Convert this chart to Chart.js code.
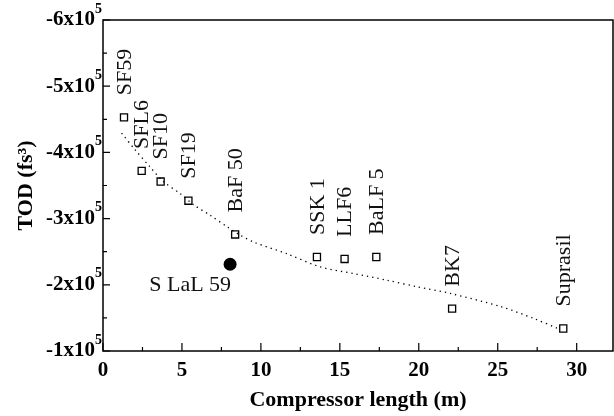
<!DOCTYPE html>
<html lang="en">
<head>
    <meta charset="UTF-8">
    <title>TOD vs compressor length</title>
    <script src="https://cdn.jsdelivr.net/npm/chart.js@4.4.0/dist/chart.umd.min.js"></script>
    <style>
        body { margin: 0; background: #fff; overflow: hidden; }
        #wrap { width: 614px; height: 416px; }
    </style>
</head>
<body>
<div id="wrap"><canvas id="myChart"></canvas></div>
<script>
    // glasses (open squares)
    var glassNames = ['SF59', 'SFL6', 'SF10', 'SF19', 'BaF 50', 'SSK 1', 'LLF6', 'BaLF 5', 'BK7', 'Suprasil'];
    var glassLength = [1.33, 2.45, 3.65, 5.41, 8.37, 13.55, 15.3, 17.31, 22.11, 29.15];
    var glassTOD = [-4.53e5, -3.72e5, -3.56e5, -3.27e5, -2.76e5, -2.42e5, -2.39e5, -2.42e5, -1.64e5, -1.34e5];

    // S LaL 59 (filled circle)
    var slalName = 'S LaL 59';
    var slalLength = [8.05];
    var slalTOD = [-2.31e5];

    // dotted trend line
    var fitLength = [1.18, 2.03, 2.98, 3.82, 4.88, 5.73, 6.79, 7.84, 8.69, 9.6, 11.64, 13.76, 15.87, 17.98, 19.9, 22.0, 25.2, 27.3, 28.8];
    var fitTOD = [-4.29e5, -4.04e5, -3.78e5, -3.56e5, -3.38e5, -3.21e5, -3.05e5, -2.88e5, -2.75e5, -2.64e5, -2.47e5, -2.27e5, -2.17e5, -2.07e5, -1.97e5, -1.87e5, -1.67e5, -1.49e5, -1.34e5];

    var xTicks = [0, 5, 10, 15, 20, 25, 30];
    var yTicks = [-6e5, -5e5, -4e5, -3e5, -2e5, -1e5];

    function toXY(xs, ys) {
        var out = [];
        xs.forEach(function (x, i) { out.push({x: x, y: ys[i]}); });
        return out;
    }

    var serif = '"Liberation Serif", "Times New Roman", serif';

    var framePlugin = {
        id: 'frame',
        afterDatasetsDraw: function (chart) {
            var ctx = chart.ctx;
            var a = chart.chartArea;
            var xs = chart.scales.x, ys = chart.scales.y;
            ctx.save();
            ctx.strokeStyle = '#000';
            ctx.lineWidth = 1.5;
            ctx.strokeRect(a.left, a.top, a.right - a.left, a.bottom - a.top);
            ctx.lineWidth = 1.2;
            ctx.beginPath();
            // inward ticks, x
            for (var i = 0; i < xTicks.length; i++) {
                var px = xs.getPixelForValue(xTicks[i]);
                ctx.moveTo(px, a.bottom); ctx.lineTo(px, a.bottom - 8);
                var mx = xs.getPixelForValue(xTicks[i] + 2.5);
                if (mx < a.right - 2) { ctx.moveTo(mx, a.bottom); ctx.lineTo(mx, a.bottom - 4); }
            }
            // inward ticks, y
            for (var j = 0; j < yTicks.length; j++) {
                var py = ys.getPixelForValue(yTicks[j]);
                ctx.moveTo(a.left, py); ctx.lineTo(a.left + 7, py);
                if (j < yTicks.length - 1) {
                    var my = ys.getPixelForValue(yTicks[j] + 0.5e5);
                    ctx.moveTo(a.left, my); ctx.lineTo(a.left + 4, my);
                }
            }
            ctx.stroke();

            // y tick labels with superscript
            ctx.fillStyle = '#000';
            for (var k = 0; k < yTicks.length; k++) {
                var y = ys.getPixelForValue(yTicks[k]);
                var mant = Math.round(yTicks[k] / 1e5);
                ctx.font = 'bold 14px ' + serif;
                var supW = ctx.measureText('5').width;
                var right = a.left - 1 - supW;
                ctx.font = 'bold 21px ' + serif;
                ctx.textAlign = 'right';
                ctx.textBaseline = 'middle';
                ctx.fillText(mant + 'x10', right, y);
                ctx.font = 'bold 14px ' + serif;
                ctx.textAlign = 'left';
                ctx.fillText('5', right, y - 11);
            }

            // glass labels, rotated
            var meta = chart.getDatasetMeta(1);
            ctx.font = '22px ' + serif;
            ctx.fillStyle = '#111';
            meta.data.forEach(function (pt, i) {
                ctx.save();
                ctx.translate(pt.x, pt.y - 22);
                ctx.rotate(-Math.PI / 2);
                ctx.textAlign = 'left';
                ctx.textBaseline = 'middle';
                ctx.fillText(glassNames[i], 0, 1);
                ctx.restore();
            });
            var sm = chart.getDatasetMeta(2).data[0];
            ctx.textAlign = 'right';
            ctx.textBaseline = 'middle';
            ctx.fillText(slalName, sm.x + 1, sm.y + 21);
            ctx.restore();
        }
    };

    var ctx = document.getElementById('myChart').getContext('2d');
    var chart = new Chart(ctx, {
        type: 'scatter',
        data: {
            datasets: [{
                label: 'fit',
                data: toXY(fitLength, fitTOD),
                showLine: true,
                borderColor: '#000',
                borderWidth: 1.3,
                borderDash: [1.3, 4],
                tension: 0.3,
                pointRadius: 0
            }, {
                label: 'glasses',
                data: toXY(glassLength, glassTOD),
                pointStyle: 'rect',
                pointRadius: 5,
                pointBorderWidth: 1.3,
                pointBorderColor: '#000',
                pointBackgroundColor: '#fff'
            }, {
                label: slalName,
                data: toXY(slalLength, slalTOD),
                pointStyle: 'circle',
                pointRadius: 6.5,
                pointBorderWidth: 0,
                pointBackgroundColor: '#000'
            }]
        },
        options: {
            animation: false,
            responsive: true,
            maintainAspectRatio: false,
            layout: {autoPadding: false, padding: {top: 20, right: 1, left: 0, bottom: 0}},
            plugins: {legend: {display: false}, tooltip: {enabled: false}},
            scales: {
                x: {
                    type: 'linear',
                    min: 0,
                    max: 32.3,
                    afterFit: function (s) { s.height = 65; s.paddingLeft = 0; s.paddingRight = 0; },
                    grid: {display: false, drawTicks: false},
                    border: {display: false},
                    ticks: {
                        stepSize: 5,
                        includeBounds: false,
                        padding: 7,
                        color: '#000',
                        maxRotation: 0,
                        font: {family: serif, size: 21, weight: 'bold'}
                    },
                    title: {
                        display: true,
                        text: 'Compressor length (m)',
                        color: '#000',
                        padding: {bottom: 2, top: 0},
                        font: {family: serif, size: 22, weight: 'bold'}
                    }
                },
                y: {
                    type: 'linear',
                    min: -6e5,
                    max: -1e5,
                    reverse: true,
                    afterFit: function (s) { s.width = 103; },
                    grid: {display: false, drawTicks: false},
                    border: {display: false},
                    ticks: {display: false, stepSize: 1e5},
                    title: {
                        display: true,
                        text: 'TOD (fs³)',
                        color: '#000',
                        padding: {top: 13, bottom: 0},
                        font: {family: serif, size: 22, weight: 'bold'}
                    }
                }
            }
        },
        plugins: [framePlugin]
    });
</script>
</body>
</html>
